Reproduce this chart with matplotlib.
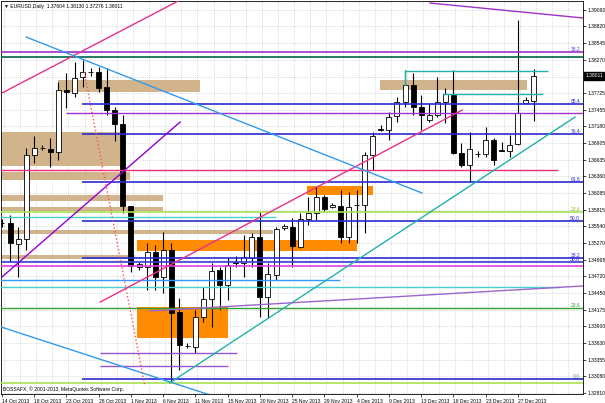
import matplotlib
matplotlib.use("Agg")
import matplotlib.pyplot as plt
from matplotlib.patches import Rectangle
import matplotlib.transforms as mtransforms

# Velas diarias EURUSD, 14 Oct 2013 - 30 Dec 2013 (indice = barra)
opens = [1.35590, 1.35597, 1.35252, 1.35334, 1.36712, 1.36820, 1.36810, 1.36761, 1.37778, 1.37729,
         1.37991, 1.38070, 1.38073, 1.37827, 1.37450, 1.37220, 1.35870, 1.34875, 1.34875, 1.35121,
         1.34711, 1.35154, 1.34138, 1.33585, 1.33563, 1.34056, 1.34350, 1.34826, 1.34580, 1.34957,
         1.34941, 1.35023, 1.35368, 1.34383, 1.34744, 1.35507, 1.35531, 1.35203, 1.35662, 1.35761,
         1.36023, 1.35859, 1.35876, 1.35368, 1.35884, 1.35892, 1.36712, 1.37138, 1.37122, 1.37352,
         1.37582, 1.37860, 1.37499, 1.37286, 1.37368, 1.37582, 1.37696, 1.36745, 1.36548, 1.36730,
         1.36728, 1.36958, 1.36794, 1.36778, 1.36892, 1.37565, 1.37604]
highs = [1.35662, 1.35728, 1.35531, 1.36826, 1.37024, 1.36874, 1.36991, 1.37910, 1.38057, 1.38237,
         1.38270, 1.38139, 1.38155, 1.38139, 1.37499, 1.37368, 1.35880, 1.34957, 1.35269, 1.35236,
         1.35450, 1.35269, 1.34368, 1.33629, 1.34170, 1.34547, 1.34941, 1.34875, 1.35039, 1.35056,
         1.35400, 1.35433, 1.35777, 1.34941, 1.35531, 1.35580, 1.35679, 1.35761, 1.36023, 1.36187,
         1.36056, 1.35925, 1.36138, 1.36105, 1.36138, 1.36761, 1.37090, 1.37204, 1.37417, 1.37663,
         1.38106, 1.38057, 1.37696, 1.37565, 1.37991, 1.37811, 1.38106, 1.36909, 1.37090, 1.36778,
         1.37171, 1.36991, 1.36925, 1.37040, 1.38926, 1.37663, 1.38130]
lows = [1.35531, 1.34957, 1.34711, 1.35154, 1.36581, 1.36794, 1.36515, 1.36630, 1.37483, 1.37663,
        1.37827, 1.38008, 1.37746, 1.37368, 1.36942, 1.35761, 1.34793, 1.34826, 1.34498, 1.34498,
        1.34449, 1.32973, 1.33186, 1.33547, 1.33462, 1.33973, 1.33891, 1.34170, 1.34334, 1.34875,
        1.34711, 1.34875, 1.34056, 1.34039, 1.34662, 1.35482, 1.34875, 1.35187, 1.35564, 1.35646,
        1.35777, 1.35843, 1.35269, 1.35269, 1.35269, 1.35433, 1.36466, 1.37106, 1.36958, 1.37253,
        1.37499, 1.37368, 1.37122, 1.37253, 1.37335, 1.37237, 1.36730, 1.36515, 1.36269, 1.36679,
        1.36679, 1.36548, 1.36775, 1.36679, 1.36876, 1.37548, 1.37276]
closes = [1.35600, 1.35269, 1.35334, 1.36712, 1.36826, 1.36830, 1.36761, 1.37778, 1.37746, 1.37975,
          1.38073, 1.38075, 1.37811, 1.37450, 1.37220, 1.35870, 1.34890, 1.34924, 1.35121, 1.34711,
          1.35154, 1.34121, 1.33596, 1.33578, 1.34056, 1.34350, 1.34810, 1.34580, 1.34908, 1.34941,
          1.35039, 1.35368, 1.34383, 1.34760, 1.35498, 1.35540, 1.35220, 1.35662, 1.35761, 1.36023,
          1.35826, 1.35892, 1.35368, 1.35859, 1.35900, 1.36712, 1.37024, 1.37122, 1.37335, 1.37582,
          1.37860, 1.37499, 1.37368, 1.37368, 1.37582, 1.37712, 1.36745, 1.36548, 1.36810, 1.36725,
          1.36958, 1.36630, 1.36778, 1.36876, 1.37401, 1.37614, 1.38011]

date_labels = ["14 Oct 2013", "18 Oct 2013", "23 Oct 2013", "28 Oct 2013", "1 Nov 2013",
               "6 Nov 2013", "11 Nov 2013", "15 Nov 2013", "20 Nov 2013", "25 Nov 2013",
               "29 Nov 2013", "4 Dec 2013", "9 Dec 2013", "13 Dec 2013", "18 Dec 2013",
               "23 Dec 2013", "27 Dec 2013"]
price_ticks = [1.39090, 1.38820, 1.38545, 1.38270, 1.37725, 1.37455, 1.37180, 1.36905,
               1.36635, 1.36360, 1.36085, 1.35815, 1.35540, 1.35270, 1.34995, 1.34720,
               1.34450, 1.34175, 1.33900, 1.33630, 1.33355, 1.33080, 1.32810]
last_price = 1.38011

# lineas horizontales: (precio, color, barra inicio, barra fin, grosor)
hlines = [
    (1.38401, "#9932cc", -1, 73, 1.2),
    (1.38319, "#00664a", -1, 73, 1.2),
    (1.38090, "#20b2aa", 50.0, 67.7, 1.0),
    (1.37712, "#20b2aa", 54.7, 67.1, 1.0),
    (1.37548, "#2a2ad0", 9.9, 73, 1.2),
    (1.37401, "#a030d0", 7.9, 73, 1.0),
    (1.37056, "#2a2ad0", 9.9, 73, 1.2),
    (1.36466, "#e8307a", -1, 69.0, 1.0),
    (1.36269, "#2a2ad0", 9.9, 73, 1.2),
    (1.35777, "#a8e050", -1, 73, 1.2),
    (1.35695, "#48d1cc", -1, 34.0, 1.0),
    (1.35630, "#2a2ad0", 9.9, 73, 1.2),
    (1.35023, "#2a2ad0", 9.9, 73, 1.2),
    (1.34957, "#3a3ad8", -1, 73, 1.2),
    (1.34892, "#e040e0", -1, 73, 1.2),
    (1.34662, "#3399ff", -1, 41.9, 1.0),
    (1.34547, "#48d1cc", -1, 69.2, 1.0),
    (1.34203, "#33a033", -1, 73, 1.0),
    (1.33465, "#9955cc", 12.2, 29.2, 1.0),
    (1.33252, "#9955cc", 12.2, 28.0, 1.0),
    (1.33038, "#2a2ad0", 9.9, 73, 1.2),
    (1.32973, "#a8e050", -1, 73, 1.2),
]

# zonas: (precio alto, precio bajo, barra inicio, barra fin, color)
zones = [
    (1.37942, 1.37745, 6.9, 24.6, "#d2b48c"),
    (1.37942, 1.37778, 46.9, 65.1, "#d2b48c"),
    (1.37089, 1.36532, -1, 14.6, "#d2b48c"),
    (1.36433, 1.36302, -1, 15.9, "#d2b48c"),
    (1.36056, 1.35958, -1, 20.0, "#d2b48c"),
    (1.35859, 1.35794, -1, 20.0, "#d2b48c"),
    (1.35482, 1.35416, -1, 33.6, "#d2b48c"),
    (1.35072, 1.35006, -1, 16.5, "#d2b48c"),
    (1.36204, 1.36056, 37.8, 46.0, "#ff8c00"),
    (1.35318, 1.35138, 16.7, 44.0, "#ff8c00"),
    (1.34219, 1.33711, 16.7, 28.0, "#ff8c00"),
]

# lineas de tendencia: (barra1, precio1, barra2, precio2, color, estilo)
trends = [
    (0.0, 1.37729, 22.1, 1.39254, "#e8308a", "-"),
    (12.2, 1.34301, 57.1, 1.37450, "#e8308a", "-"),
    (0.0, 1.34711, 22.1, 1.37253, "#9400d3", "-"),
    (3.0, 1.38647, 52.1, 1.36089, "#3399ee", "-"),
    (-0.5, 1.33908, 25.8, 1.32776, "#3399ee", "-"),
    (20.8, 1.32973, 71.1, 1.37335, "#20b2aa", "-"),
    (10.2, 1.38073, 17.7, 1.32940, "#ff5050", ":"),
    (53.1, 1.39205, 72.1, 1.38959, "#a030c8", "-"),
    (18.4, 1.34154, 72.1, 1.34564, "#9966cc", "-"),
    (50.0, 1.38090, 50.0, 1.37860, "#20b2aa", "-"),
]

# etiquetas fibo a la derecha: (precio, texto, color)
fib_labels = [
    (1.38401, "38.2", "#6a2ad0"),
    (1.37548, "85.4", "#2a2ad0"),
    (1.37056, "76.4", "#2a2ad0"),
    (1.36269, "61.8", "#2a2ad0"),
    (1.35777, "23.6", "#8ac030"),
    (1.35630, "50.0", "#2a2ad0"),
    (1.35023, "38.2", "#2a2ad0"),
    (1.34957, "50.0", "#2a2ad0"),
    (1.34203, "23.6", "#33a033"),
    (1.33038, "0.0", "#5aa0a0"),
]

plt.rcParams["font.family"] = ["Liberation Sans", "DejaVu Sans"]
fs = 3.6

fig = plt.figure(figsize=(6.05, 4.03), dpi=100)
ax = fig.add_axes([1 / 605, 9 / 403, 582 / 605, 393 / 403])
ax.set_xlim(-0.12, 72.08)
ax.set_ylim(1.32792, 1.39238)

# rejilla punteada
for p in price_ticks + [1.37995]:
    ax.axhline(p, color="#b8b8b8", lw=0.5, ls=(0, (1, 2)), zorder=0)
for b in range(0, 73, 2):
    ax.axvline(b + 0.25, color="#b8b8b8", lw=0.5, ls=(0, (1, 2)), zorder=0)

for top, bot, x1, x2, col in zones:
    ax.add_patch(Rectangle((x1, bot), x2 - x1, top - bot, color=col, lw=0, zorder=1))

# velas
n = len(opens)
bw = 0.62
for i in range(n):
    o, h, l, c = opens[i], highs[i], lows[i], closes[i]
    ax.vlines(i, l, h, color="black", lw=0.8, zorder=3)
    lo, hi = min(o, c), max(o, c)
    if hi - lo < 0.00004:
        ax.hlines((o + c) / 2, i - bw / 2, i + bw / 2, color="black", lw=0.9, zorder=4)
    else:
        face = "white" if c >= o else "black"
        ax.add_patch(Rectangle((i - bw / 2, lo), bw, hi - lo, facecolor=face,
                               edgecolor="black", lw=0.6, zorder=4))

for p, col, x1, x2, lw in hlines:
    ax.hlines(p, x1, x2, color=col, lw=lw, zorder=5)

for x1, p1, x2, p2, col, st in trends:
    ax.plot([x1, x2], [p1, p2], color=col, lw=1.0, ls=st, zorder=5)

trans = mtransforms.blended_transform_factory(ax.transAxes, ax.transData)
for p, txt, col in fib_labels:
    ax.text(0.995, p + 0.00004, txt, color=col, fontsize=fs, ha="right", va="bottom",
            transform=trans, zorder=6)

# ejes
ax.yaxis.tick_right()
ax.set_yticks(price_ticks)
ax.set_yticklabels([f"{p:.5f}" for p in price_ticks])
ax.set_xticks(range(0, 4 * len(date_labels), 4))
ax.set_xticklabels(date_labels, ha="left")
ax.tick_params(axis="both", labelsize=fs, length=2, width=0.5, pad=1.5, colors="black")
for s in ax.spines.values():
    s.set_linewidth(0.6)

ax.text(1.004, last_price, f"{last_price:.5f}", transform=trans, fontsize=fs, color="white",
        va="center", ha="left", zorder=7,
        bbox=dict(boxstyle="square,pad=0.25", facecolor="black", edgecolor="black"))

ax.text(0.006, 0.992, "\u25bc EURUSD,Daily  1.37604 1.38130 1.37276 1.38011",
        transform=ax.transAxes, fontsize=fs, va="top", ha="left", zorder=7)
ax.text(0.004, 0.006, "BOSSAFX, \u00a9 2001-2013, MetaQuotes Software Corp.",
        transform=ax.transAxes, fontsize=fs, va="bottom", ha="left", zorder=7)

fig.savefig("out.png", dpi=100)
